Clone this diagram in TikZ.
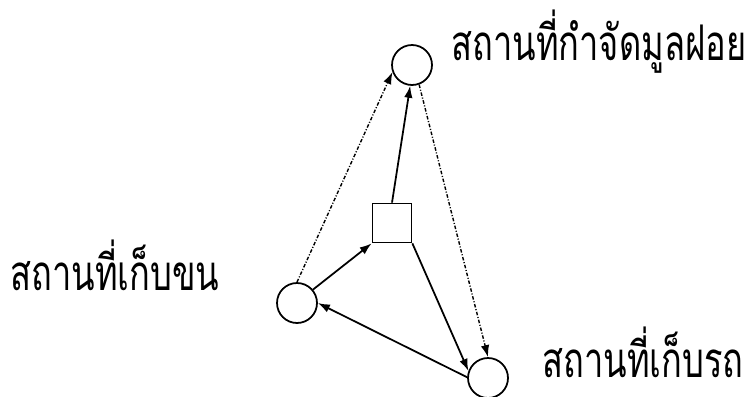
\documentclass[tikz,border=0pt]{standalone}
\usepackage{fontspec}
\newfontfamily\thaifont[Script=Thai, FakeStretch=0.7]{Loma}
\usepackage{tikz}
\usetikzlibrary{arrows.meta, positioning}
\tikzset{
	site/.style={draw, circle, line width=1pt, minimum size=0.8cm, inner sep=0pt},
	hub/.style={draw, rectangle, line width=1pt, minimum size=0.78cm, inner sep=0pt},
	lbl/.style={anchor=base west, inner sep=0pt, text depth=0pt, font=\thaifont\fontsize{28}{32}\selectfont},
	arr/.style={-{Latex[length=2.4mm, width=1.7mm]}, line width=1pt},
	darr/.style={arr, line width=0.8pt, dash pattern=on 2pt off 1pt on 0.6pt off 1pt},
}
\begin{document}
\begin{tikzpicture}[x=0.02cm, y=-0.02cm]
	\useasboundingbox (0,0) rectangle (749,396);
	\node[site] (dump) at (412,65) {};
	\node[hub] (sq) at (392,223) {};
	\node[site] (coll) at (297,303) {};
	\node[site] (depot) at (488,378) {};
	\node[lbl] (dumplbl) at (451,60) {สถานที่กำจัดมูลฝอย};
	\node[lbl] (colllbl) at (10,290) {สถานที่เก็บขน};
	\node[lbl] (depotlbl) at (542,377) {สถานที่เก็บรถ};
	\foreach \a/\b in {sq.north/dump.265, coll.40/sq.south west, sq.south east/depot.160, depot.178/coll.east}
	\draw[arr] (\a) -- (\b);
	\draw[darr] (coll.north) -- (dump.200);
	\draw[darr] (dump.290) -- (depot.north);
\end{tikzpicture}
\end{document}
